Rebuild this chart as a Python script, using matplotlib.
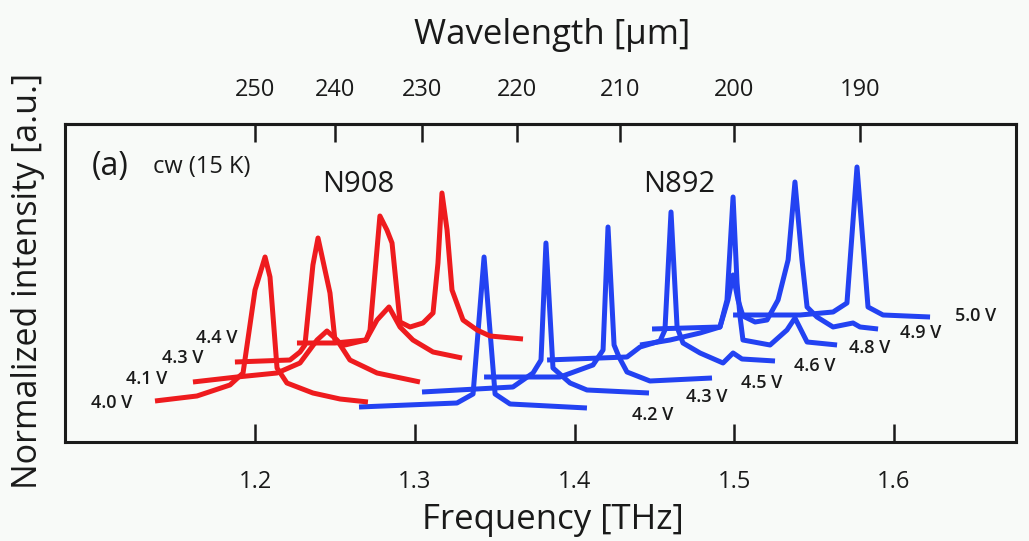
import matplotlib
matplotlib.use("Agg")
import matplotlib.pyplot as plt

plt.rcParams['font.family'] = ['Open Sans', 'DejaVu Sans']

# N908 (red), frequency [THz] and normalized intensity [a.u.] per bias
red_40_f = [1.137, 1.1633, 1.184, 1.1922, 1.1997, 1.206, 1.2091, 1.2135, 1.2197, 1.236, 1.253, 1.2705]
red_40_y = [0.41, 0.46, 0.57, 0.69, 1.52, 1.85, 1.65, 0.74, 0.59, 0.49, 0.43, 0.40]
red_41_f = [1.1608, 1.1884, 1.2135, 1.2279, 1.2386, 1.2448, 1.2511, 1.2592, 1.2762, 1.3031]
red_41_y = [0.60, 0.65, 0.69, 0.79, 1.02, 1.11, 1.02, 0.82, 0.69, 0.60]
red_43_f = [1.1871, 1.2216, 1.2279, 1.231, 1.236, 1.2392, 1.2467, 1.2498, 1.2561, 1.2693,
            1.2762, 1.2837, 1.2906, 1.2987, 1.3113, 1.3295]
red_43_y = [0.80, 0.82, 0.90, 0.97, 1.77, 2.04, 1.49, 1.02, 0.97, 1.02,
            1.22, 1.35, 1.15, 1.02, 0.90, 0.84]
red_44_f = [1.226, 1.2498, 1.2693, 1.2718, 1.278, 1.2824, 1.2856, 1.2906, 1.2969,
            1.305, 1.3113, 1.3144, 1.3169, 1.3201, 1.3232, 1.3301, 1.3389, 1.347, 1.3677]
red_44_y = [0.99, 0.99, 1.02, 1.12, 2.26, 2.12, 1.99, 1.20, 1.15,
            1.19, 1.29, 1.79, 2.49, 2.12, 1.52, 1.22, 1.12, 1.06, 1.03]

# N892 (blue)
blue_42_f = [1.2649, 1.3263, 1.3364, 1.3433, 1.3502, 1.3596, 1.4078]
blue_42_y = [0.35, 0.39, 0.48, 1.85, 0.48, 0.38, 0.34]
blue_43_f = [1.3044, 1.3614, 1.374, 1.379, 1.3821, 1.3865, 1.3972, 1.4078, 1.4467]
blue_43_y = [0.50, 0.55, 0.69, 0.82, 1.99, 0.74, 0.59, 0.52, 0.49]
blue_45_f = [1.3433, 1.3909, 1.4116, 1.4179, 1.421, 1.4248, 1.4279, 1.4329, 1.4473, 1.4862]
blue_45_y = [0.65, 0.65, 0.77, 0.92, 2.15, 0.97, 0.85, 0.70, 0.61, 0.64]
blue_46_f = [1.3828, 1.4329, 1.4411, 1.4536, 1.4567, 1.4605, 1.4643, 1.468, 1.4787, 1.4931,
             1.4994, 1.505, 1.5257]
blue_46_y = [0.82, 0.85, 0.95, 1.01, 1.12, 2.30, 1.15, 0.99, 0.89, 0.79,
             0.89, 0.83, 0.81]
blue_48_f = [1.4411, 1.4599, 1.4787, 1.4912, 1.4956, 1.4994, 1.5019, 1.5038, 1.5056, 1.5226,
             1.5332, 1.5382, 1.5458, 1.5646]
blue_48_y = [0.97, 1.02, 1.09, 1.15, 1.42, 2.45, 1.59, 1.25, 1.02, 0.97,
             1.12, 1.24, 1.00, 0.97]
blue_49_f = [1.4486, 1.4912, 1.4962, 1.4994, 1.5025, 1.5056, 1.5132, 1.5207, 1.5276, 1.5339,
             1.5382, 1.5426, 1.5458, 1.552, 1.5621, 1.5746, 1.579, 1.5903]
blue_49_y = [1.13, 1.15, 1.42, 1.67, 1.42, 1.26, 1.20, 1.22, 1.42, 1.82,
             2.60, 1.82, 1.35, 1.25, 1.15, 1.19, 1.15, 1.13]
blue_50_f = [1.4994, 1.5414, 1.5621, 1.5708, 1.5771, 1.584, 1.5934, 1.6229]
blue_50_y = [1.27, 1.27, 1.30, 1.39, 2.75, 1.35, 1.27, 1.25]

red_labels = ["4.0 V", "4.1 V", "4.3 V", "4.4 V"]
blue_labels = ["4.2 V", "4.3 V", "4.5 V", "4.6 V", "4.8 V", "4.9 V", "5.0 V"]
freq_ticks = [1.2, 1.3, 1.4, 1.5, 1.6]
wl_ticks = [250, 240, 230, 220, 210, 200, 190]

RED = '#ee1b1e'
BLUE = '#2342f2'
BG = '#f8faf8'
INK = '#1a1a1a'

fig = plt.figure(figsize=(10.29, 5.41), dpi=100, facecolor=BG)
ax = fig.add_axes([0.0632, 0.183, 0.9242, 0.5878], facecolor=BG)

blue_curves = [(blue_42_f, blue_42_y), (blue_43_f, blue_43_y), (blue_45_f, blue_45_y),
               (blue_46_f, blue_46_y), (blue_48_f, blue_48_y), (blue_49_f, blue_49_y),
               (blue_50_f, blue_50_y)]
red_curves = [(red_40_f, red_40_y), (red_41_f, red_41_y), (red_43_f, red_43_y),
              (red_44_f, red_44_y)]

for f, y in blue_curves:
    ax.plot(f, y, color=BLUE, lw=3.6, solid_joinstyle='round', solid_capstyle='butt')
for f, y in red_curves:
    ax.plot(f, y, color=RED, lw=3.6, solid_joinstyle='round', solid_capstyle='butt')

# voltage labels
red_pos = [(1.1226, 0.39), (1.1445, 0.63), (1.1671, 0.84), (1.189, 1.04)]
for lab, (x, y) in zip(red_labels, red_pos):
    ax.text(x, y, lab, fontsize=13, fontweight='semibold', ha='right', va='center', color=INK)
blue_pos = [(1.4361, 0.27), (1.4699, 0.45), (1.5044, 0.59), (1.5376, 0.76),
            (1.5721, 0.94), (1.6041, 1.09), (1.6386, 1.26)]
for lab, (x, y) in zip(blue_labels, blue_pos):
    ax.text(x, y, lab, fontsize=13, fontweight='semibold', ha='left', va='center', color=INK)

ax.text(1.0975, 2.75, "(a)", fontsize=23, va='center', color=INK)
ax.text(1.1357, 2.75, "cw (15 K)", fontsize=17, va='center', color=INK)
ax.text(1.2417, 2.57, "N908", fontsize=21, fontweight='medium', va='center', color=INK)
ax.text(1.443, 2.57, "N892", fontsize=21, fontweight='medium', va='center', color=INK)

ax.set_xlim(1.0806, 1.6768)
ax.set_ylim(0, 3.18)
ax.set_yticks([])
ax.set_xticks(freq_ticks)
ax.set_xticklabels([str(t) for t in freq_ticks])
ax.tick_params(axis='x', direction='in', length=13, width=1.8, labelsize=17, pad=20,
               colors=INK)
for s in ax.spines.values():
    s.set_linewidth(2.2)
    s.set_color(INK)

secax = ax.secondary_xaxis('top', functions=(lambda f: 300.0 / f, lambda w: 300.0 / w))
secax.set_xticks(wl_ticks)
secax.set_xticklabels([str(t) for t in wl_ticks])
secax.tick_params(direction='in', length=13, width=1.8, labelsize=17, pad=16,
                  colors=INK)
secax.spines['top'].set_linewidth(2.2)

fig.text(0.537, 0.039, "Frequency [THz]", fontsize=25, ha='center', va='center', color=INK)
fig.text(0.537, 0.935, "Wavelength [\u00b5m]", fontsize=25, ha='center', va='center', color=INK)
fig.text(0.027, 0.48, "Normalized intensity [a.u.]", fontsize=24.5, rotation=90,
         ha='center', va='center', color=INK)

fig.savefig("out.png", dpi=100, facecolor=BG)
